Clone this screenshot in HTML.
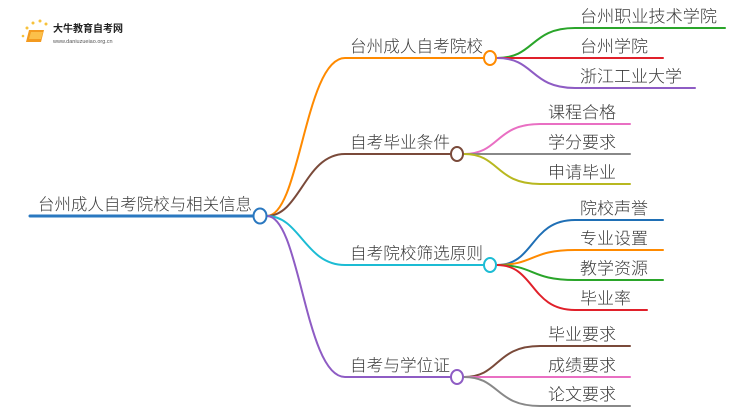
<!DOCTYPE html>
<html><head><meta charset="utf-8"><style>
html,body{margin:0;padding:0;background:#fff;}
body{width:750px;height:410px;overflow:hidden;position:relative;font-family:"Liberation Sans","Noto Sans CJK SC",sans-serif;}
svg{position:absolute;left:0;top:0}
text{font-family:"Liberation Sans","Noto Sans CJK SC",sans-serif;fill:#3a3a3a;font-size:16.5px;font-weight:300}
</style></head><body>
<svg width="750" height="410" viewBox="0 0 750 410" fill="none" stroke-linecap="round">
<!-- logo -->
<g>
<circle cx="27" cy="28" r="1.5" fill="#f7c23b" stroke="none"/><circle cx="33" cy="23" r="1.5" fill="#f7c23b" stroke="none"/><circle cx="40" cy="21" r="1.5" fill="#f7c23b" stroke="none"/><circle cx="46" cy="24" r="1.5" fill="#f7c23b" stroke="none"/><circle cx="23" cy="36" r="1.3" fill="#f7c23b" stroke="none"/>
<path d="M29 30 L44 30 L41 42 L26 42 Z" fill="#f39a1f" stroke="none"/>
<path d="M31 32 L43 32 L41 39 L29 39 Z" fill="#fbc04a" stroke="none"/>
<text x="53" y="32" style="font-size:10px;fill:#222;font-weight:bold">大牛教育自考网</text>
<text x="53" y="43" style="font-size:5.5px;fill:#555">www.daniuzueiao.org.cn</text>
</g>
<!-- root -->
<line x1="30" y1="216" x2="254" y2="216" stroke="#2a78c0" stroke-width="3"/>
<text x="38" y="210" textLength="214" lengthAdjust="spacingAndGlyphs">台州成人自考院校与相关信息</text>
<!-- root branches -->
<path d="M267 216 C300 216 305 58 345 58 L490 58" stroke="#ff8a00" stroke-width="2"/>
<path d="M267 216 C300 216 305 154 345 154 L457 154" stroke="#7a4a3a" stroke-width="2"/>
<path d="M267 216 C300 216 305 265 345 265 L490 265" stroke="#1cbcd4" stroke-width="2"/>
<path d="M267 216 C300 216 305 377 345 377 L457 377" stroke="#8e5cc4" stroke-width="2"/>
<ellipse cx="260" cy="216" rx="6.5" ry="7.5" fill="#fff" stroke="#2a78c0" stroke-width="2"/>
<text x="350" y="52" textLength="133" lengthAdjust="spacingAndGlyphs">台州成人自考院校</text>
<text x="350" y="148" textLength="100" lengthAdjust="spacingAndGlyphs">自考毕业条件</text>
<text x="350" y="259" textLength="133" lengthAdjust="spacingAndGlyphs">自考院校筛选原则</text>
<text x="350" y="371" textLength="100" lengthAdjust="spacingAndGlyphs">自考与学位证</text>
<!-- branch1 children -->
<path d="M497 58 C535 58 530 28 575 28 L725 28" stroke="#2aa52a" stroke-width="2"/>
<path d="M497 58 L663 58" stroke="#e0202a" stroke-width="2"/>
<path d="M497 58 C535 58 530 88 575 88 L695 88" stroke="#8e5cc4" stroke-width="2"/>
<ellipse cx="490" cy="58" rx="6" ry="7" fill="#fff" stroke="#ff8a00" stroke-width="2"/>
<text x="580" y="22" textLength="137" lengthAdjust="spacingAndGlyphs">台州职业技术学院</text>
<text x="580" y="52" textLength="68" lengthAdjust="spacingAndGlyphs">台州学院</text>
<text x="580" y="82" textLength="102" lengthAdjust="spacingAndGlyphs">浙江工业大学</text>
<!-- branch2 children -->
<path d="M464 154 C500 154 495 124 540 124 L630 124" stroke="#e96fc3" stroke-width="2"/>
<path d="M464 154 L630 154" stroke="#888" stroke-width="2"/>
<path d="M464 154 C500 154 495 184 540 184 L630 184" stroke="#b8b820" stroke-width="2"/>
<ellipse cx="457" cy="154" rx="6" ry="7" fill="#fff" stroke="#7a4a3a" stroke-width="2"/>
<text x="548" y="118" textLength="68" lengthAdjust="spacingAndGlyphs">课程合格</text>
<text x="548" y="148" textLength="68" lengthAdjust="spacingAndGlyphs">学分要求</text>
<text x="548" y="178" textLength="68" lengthAdjust="spacingAndGlyphs">申请毕业</text>
<!-- branch3 children -->
<path d="M497 265 C535 265 530 220 575 220 L663 220" stroke="#1f6fb5" stroke-width="2"/>
<path d="M497 265 C535 265 530 250 575 250 L663 250" stroke="#ff8a00" stroke-width="2"/>
<path d="M497 265 C535 265 530 280 575 280 L663 280" stroke="#2aa52a" stroke-width="2"/>
<path d="M497 265 C535 265 530 310 575 310 L647 310" stroke="#e0202a" stroke-width="2"/>
<ellipse cx="490" cy="265" rx="6" ry="7" fill="#fff" stroke="#1cbcd4" stroke-width="2"/>
<text x="580" y="214" textLength="68" lengthAdjust="spacingAndGlyphs">院校声誉</text>
<text x="580" y="244" textLength="68" lengthAdjust="spacingAndGlyphs">专业设置</text>
<text x="580" y="274" textLength="68" lengthAdjust="spacingAndGlyphs">教学资源</text>
<text x="580" y="304" textLength="51" lengthAdjust="spacingAndGlyphs">毕业率</text>
<!-- branch4 children -->
<path d="M464 377 C500 377 495 346 540 346 L630 346" stroke="#7a4a3a" stroke-width="2"/>
<path d="M464 377 L630 377" stroke="#e96fc3" stroke-width="2"/>
<path d="M464 377 C500 377 495 406 540 406 L630 406" stroke="#888" stroke-width="2"/>
<ellipse cx="457" cy="377" rx="6" ry="7" fill="#fff" stroke="#8e5cc4" stroke-width="2"/>
<text x="548" y="340" textLength="68" lengthAdjust="spacingAndGlyphs">毕业要求</text>
<text x="548" y="371" textLength="68" lengthAdjust="spacingAndGlyphs">成绩要求</text>
<text x="548" y="400" textLength="68" lengthAdjust="spacingAndGlyphs">论文要求</text>
</svg>
</body></html>
